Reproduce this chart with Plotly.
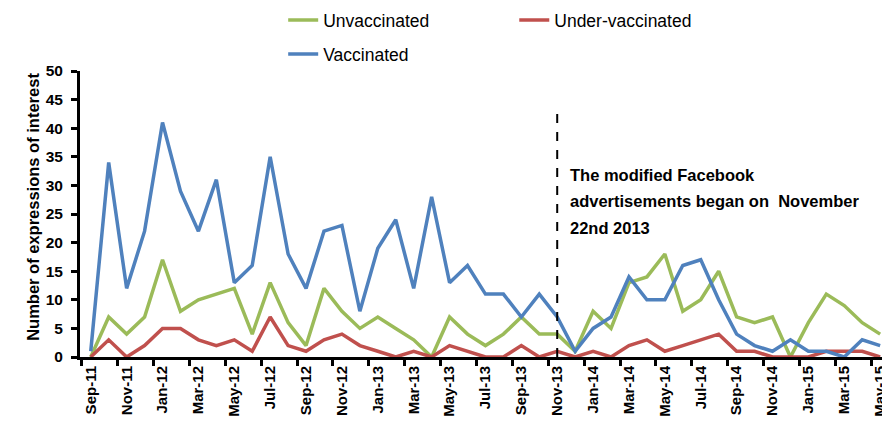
import plotly.graph_objects as go

months = ["Sep-11", "Oct-11", "Nov-11", "Dec-11", "Jan-12", "Feb-12", "Mar-12", "Apr-12",
          "May-12", "Jun-12", "Jul-12", "Aug-12", "Sep-12", "Oct-12", "Nov-12", "Dec-12",
          "Jan-13", "Feb-13", "Mar-13", "Apr-13", "May-13", "Jun-13", "Jul-13", "Aug-13",
          "Sep-13", "Oct-13", "Nov-13", "Dec-13", "Jan-14", "Feb-14", "Mar-14", "Apr-14",
          "May-14", "Jun-14", "Jul-14", "Aug-14", "Sep-14", "Oct-14", "Nov-14", "Dec-14",
          "Jan-15", "Feb-15", "Mar-15", "Apr-15", "May-15"]

unvaccinated = [0, 7, 4, 7, 17, 8, 10, 11, 12, 4, 13, 6, 2, 12, 8, 5,
                7, 5, 3, 0, 7, 4, 2, 4, 7, 4, 4, 1, 8, 5, 13, 14,
                18, 8, 10, 15, 7, 6, 7, 0, 6, 11, 9, 6, 4]
under_vaccinated = [0, 3, 0, 2, 5, 5, 3, 2, 3, 1, 7, 2, 1, 3, 4, 2,
                    1, 0, 1, 0, 2, 1, 0, 0, 2, 0, 1, 0, 1, 0, 2, 3,
                    1, 2, 3, 4, 1, 1, 0, 0, 0, 1, 1, 1, 0]
vaccinated = [1, 34, 12, 22, 41, 29, 22, 31, 13, 16, 35, 18, 12, 22, 23, 8,
              19, 24, 12, 28, 13, 16, 11, 11, 7, 11, 7, 1, 5, 7, 14, 10,
              10, 16, 17, 10, 4, 2, 1, 3, 1, 1, 0, 3, 2]

y_title = "Number of expressions of interest"
event_month = "Nov-13"
event_top = 44
event_lines = ["The modified Facebook", "advertisements began on  November", "22nd 2013"]
event_line_y = [31.8, 27.3, 22.6]

x = list(range(len(months)))
tick_idx = x[::2]
tick_labels = [months[i] for i in tick_idx]

GREEN = "#9BBB59"
RED = "#C0504D"
BLUE = "#4F81BD"
LEGFONT = dict(family="Liberation Sans Narrow, Liberation Sans, Arial", size=17.5, color="#000")
BOLD = "Liberation Sans, Arial"

# the page body has an 8px margin, so the figure is drawn 8px smaller
W, H = 882, 419

fig = go.Figure()
fig.add_trace(go.Scatter(x=x, y=unvaccinated, mode="lines", name="Unvaccinated",
                         line=dict(color=GREEN, width=3.5), legend="legend"))
fig.add_trace(go.Scatter(x=x, y=under_vaccinated, mode="lines", name="Under-vaccinated",
                         line=dict(color=RED, width=3.5), legend="legend2"))
fig.add_trace(go.Scatter(x=x, y=vaccinated, mode="lines", name="Vaccinated",
                         line=dict(color=BLUE, width=3.5), legend="legend3"))

ev = months.index(event_month)
fig.add_shape(type="line", xref="x", yref="y", x0=ev, x1=ev, y0=0, y1=event_top,
              line=dict(color="black", width=2, dash="dash"))
for line_text, ly in zip(event_lines, event_line_y):
    fig.add_annotation(xref="x", yref="y", x=ev + 0.6, y=ly, text=line_text,
                       showarrow=False, xanchor="left", yanchor="middle", align="left",
                       font=dict(family=BOLD, size=16.5, color="black", weight="bold"))

# y-axis title
fig.add_annotation(xref="paper", yref="paper", x=0, y=0.525, xshift=-47, text=y_title,
                   textangle=-90, showarrow=False, xanchor="center", yanchor="middle",
                   font=dict(family=BOLD, size=16.5, color="black", weight="bold"))

leg_common = dict(xref="container", yref="container", xanchor="left", yanchor="middle",
                  font=LEGFONT, bgcolor="rgba(0,0,0,0)", borderwidth=0)

fig.update_layout(
    width=W, height=H, showlegend=True,
    margin=dict(l=72, r=0, t=63, b=70, autoexpand=False),
    plot_bgcolor="white", paper_bgcolor="white",
    legend=dict(x=0.312, y=0.971, **leg_common),
    legend2=dict(x=0.574, y=0.971, **leg_common),
    legend3=dict(x=0.312, y=0.890, **leg_common),
    xaxis=dict(range=[-0.6, 44.55], tickmode="array", tickvals=tick_idx, ticktext=tick_labels,
               tickangle=-90, ticks="", showgrid=False, zeroline=False,
               showline=True, linecolor="black", linewidth=3,
               tickfont=dict(family=BOLD, size=15, color="black", weight="bold"),
               minor=dict(tickmode="linear", tick0=-0.5, dtick=2, ticks="outside", ticklen=6,
                          tickwidth=3, tickcolor="black", showgrid=False)),
    yaxis=dict(range=[0, 50], dtick=5, ticks="outside", ticklen=6, tickwidth=3, tickcolor="black",
               showgrid=False, zeroline=False, showline=True, linecolor="black", linewidth=3,
               ticklabelstandoff=5,
               tickfont=dict(family=BOLD, size=15.5, color="black", weight="bold")),
)

fig.write_html("out.html")
